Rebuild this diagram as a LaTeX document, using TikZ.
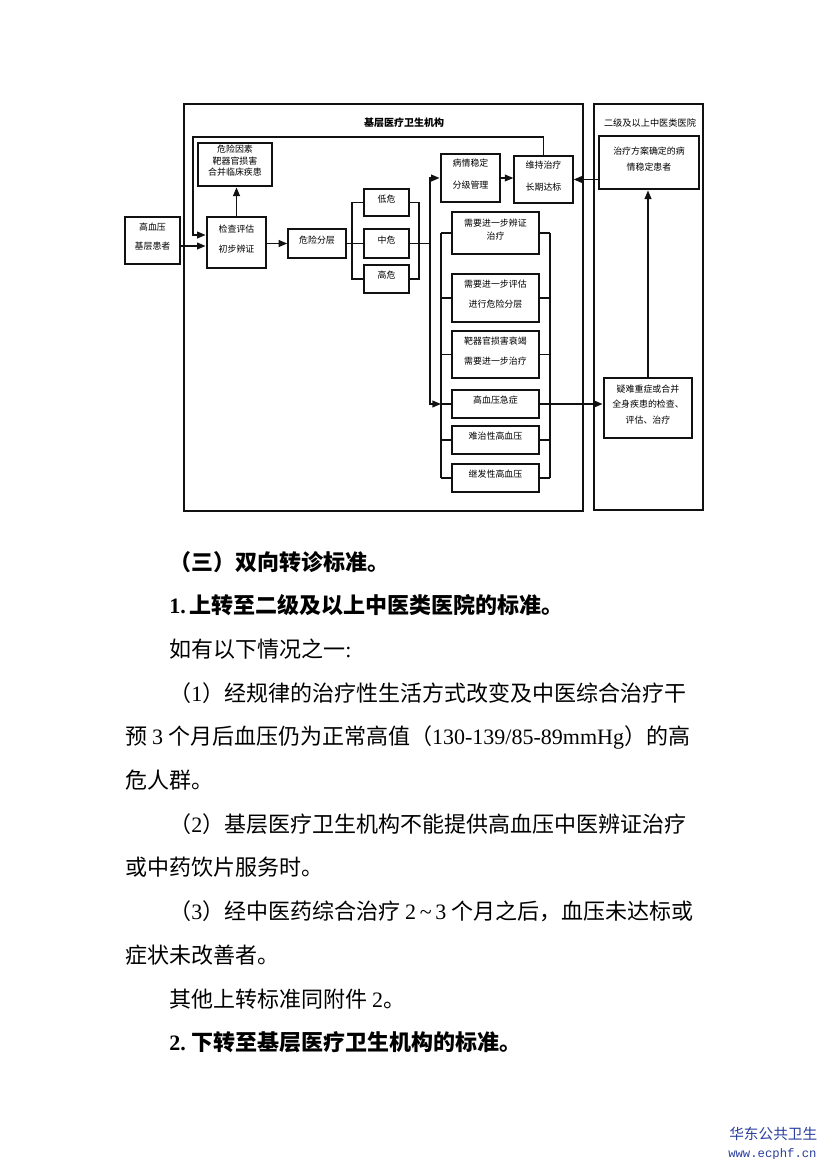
\documentclass[tikz,border=0pt]{standalone}
\usepackage{fontspec}
\setmainfont{Noto Sans CJK SC}
\newfontfamily\latin{Liberation Serif}
\newfontfamily\latinmono{Liberation Mono}
\usepackage{tikz}
\usetikzlibrary{arrows.meta,fit,positioning}
\definecolor{ink}{HTML}{111111}
\definecolor{wmblue}{HTML}{2A3F9E}

\begin{document}
\begin{tikzpicture}[
  x=0.75pt,y=-0.75pt,
  frame/.style={draw=ink,line width=1.3pt,inner sep=0pt},
  box/.style={draw=ink,line width=1pt,inner sep=0pt,align=center,
    font=\fontsize{6.7}{#1}\selectfont},
  box/.default=15,
  bbox/.style={box=#1,line width=2pt},
  bbox/.default=15,
  ln/.style={draw=ink,line width=1.3pt},
  arr/.style={ln,-{Triangle[length=6.5pt,width=5pt]}},
  para/.style={anchor=base west,inner sep=0pt,font=\fontsize{16.5}{20}\selectfont},
  head/.style={para,font=\bfseries\fontsize{16.5}{20}\selectfont}
]
\fill[white] (0,0) rectangle (820,1159);
\useasboundingbox (0,0) rectangle (820,1159);

% two frames
\node[frame,fit={(184,104) (583,511)}] (basefr) {};
\node[frame,fit={(594,104) (703,510)}] (hospfr) {};
\node[font=\bfseries\fontsize{7.5}{9}\selectfont] (basettl) at (404,123) {基层医疗卫生机构};
\node[font=\fontsize{6.9}{9}\selectfont] (hospttl) at (650,123) {二级及以上中医类医院};

% left part
\node[box=14.25,fit={(125,217) (180,264)}] (pat) {高血压\\基层患者};
\node[bbox=15,fit={(207,217) (266,268)}] (chk) {检查评估\\初步辨证};
\node[bbox=8.6,fit={(198,143) (272,186)}] (rf) {危险因素\\靶器官损害\\合并临床疾患};
\node[box,fit={(288,229) (346,258)}] (strat) {危险分层};
\node[box,fit={(364,189) (409,216)}] (lo) {低危};
\node[box,fit={(364,229) (409,258)}] (md) {中危};
\node[box,fit={(364,265) (409,293)}] (hi) {高危};

% middle column
\node[bbox=16.5,fit={(441,154) (500,202)}] (stab) {病情稳定\\分级管理};
\node[box=16.5,fit={(514,156) (573,203)},line width=.8pt] (keep) {维持治疗\\长期达标};
\node[box=9.75,fit={(452,212) (539,254)}] (nd1) {需要进一步辨证\\治疗};
\node[box=15,fit={(452,274) (539,322)}] (nd2) {需要进一步评估\\进行危险分层};
\node[box=15,fit={(452,331) (539,378)}] (nd3) {靶器官损害衰竭\\需要进一步治疗};
\node[bbox,fit={(452,390) (539,418)}] (emg) {高血压急症};
\node[box,fit={(452,426) (539,454)}] (rfr) {难治性高血压};
\node[box,fit={(452,464) (539,492)}] (sec) {继发性高血压};

% hospital column
\node[bbox=12,fit={(599,136) (699,189)}] (plan) {治疗方案确定的病\\情稳定患者};
\node[bbox=11.6,fit={(604,378) (692,438)}] (hard) {疑难重症或合并\\全身疾患的检查、\\评估、治疗};

% connectors
\coordinate (fbc) at (193,137);
\coordinate (trk) at (430,243.5);
\coordinate (lbr) at (441,0);
\coordinate (rbr) at (550,0);
\draw[arr] (pat.east |- 0,246) -- (chk.west |- 0,246);
\draw[arr] (keep.north) |- (fbc) |- (chk.west |- 0,235);
\draw[arr] (chk.north) -- (chk.north |- rf.south);
\draw[arr] (chk.east |- strat.west) -- (strat.west);
\draw[ln] (strat.east) -- (md.west);
\draw[ln] (lo.west) -- ++(-11,0) |- (hi.west);
\draw[ln] (lo.east) -- ++(9,0) |- (hi.east);
\draw[ln] (md.east) -- (trk);
\draw[arr] (trk) |- (stab.west);
\draw[arr] (trk) |- (emg.west -| lbr);
\draw[ln] (nd1.west -| lbr) -- (sec.west -| lbr);
\draw[ln] (nd1.east -| rbr) -- (sec.east -| rbr);
\foreach \bx in {nd1,nd2,nd3,emg,rfr,sec}{
  \draw[ln] (\bx.west) -- (\bx.west -| lbr);
  \draw[ln] (\bx.east) -- (\bx.east -| rbr);
}
\draw[arr] (stab.east) -- (stab.east -| keep.west);
\draw[arr] (plan.west |- keep.east) -- (keep.east);
\draw[arr] (emg.east) -- (emg.east -| hard.west);
\draw[arr] (hard.north) -- (hard.north |- plan.south);

% text below the chart
\node[head] (l0) at (169,570) {（三）双向转诊标准。};
\node[head] (l1) at (169,613.7) {{\latin 1.}\hspace{3pt}上转至二级及以上中医类医院的标准。};
\node[para] (l2) at (169,657.4) {如有以下情况之一{\latin :}};
\node[para] (l3) at (169,701.1) {（{\latin 1}）经规律的治疗性生活方式改变及中医综合治疗干};
\node[para] (l4) at (125,744.8) {预 {\latin 3} 个月后血压仍为正常高值（{\latin 130-139/85-89mmHg}）的高};
\node[para] (l5) at (125,788.5) {危人群。};
\node[para] (l6) at (169,832.2) {（{\latin 2}）基层医疗卫生机构不能提供高血压中医辨证治疗};
\node[para] (l7) at (125,875.9) {或中药饮片服务时。};
\node[para] (l8) at (169,919.6) {（{\latin 3}）经中医药综合治疗 {\latin 2\,\textasciitilde\,3} 个月之后，血压未达标或};
\node[para] (l9) at (125,963.3) {症状未改善者。};
\node[para] (l10) at (169,1007) {其他上转标准同附件 {\latin 2}。};
\node[head] (l11) at (169,1050.7) {{\latin 2.}\hspace{4pt}下转至基层医疗卫生机构的标准。};

% watermark
\node[anchor=base west,inner sep=0pt,text=wmblue,font=\fontsize{11}{12}\selectfont] (wmcn) at (729,1139) {华东公共卫生};
\node[anchor=base west,inner sep=0pt,text=wmblue,font=\latinmono\fontsize{9.2}{10}\selectfont] (wmurl) at (728,1157) {www.ecphf.cn};
\end{tikzpicture}
\end{document}
